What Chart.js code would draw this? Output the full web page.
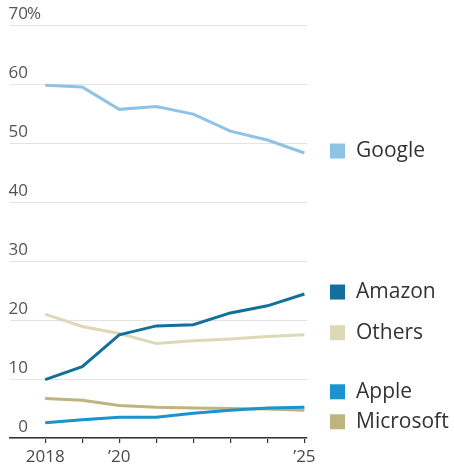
<!DOCTYPE html>
<html>
<head>
<meta charset="utf-8">
<script src="https://cdn.jsdelivr.net/npm/chart.js@4.4.1/dist/chart.umd.min.js"></script>
<style>
  html, body { margin: 0; padding: 0; background: #fff; }
  #wrap { width: 454px; height: 471px; }
</style>
</head>
<body>
<div id="wrap"><canvas id="grafico"></canvas></div>
<script>
// años y cuotas (%)
const years = [2018, 2019, 2020, 2021, 2022, 2023, 2024, 2025];
const google    = [59.8, 59.5, 55.7, 56.2, 54.9, 52.0, 50.5, 48.3];
const amazon    = [9.9, 12.1, 17.5, 19.0, 19.2, 21.2, 22.4, 24.4];
const others    = [21.0, 18.9, 17.7, 16.0, 16.5, 16.8, 17.2, 17.5];
const apple     = [2.6, 3.1, 3.5, 3.5, 4.2, 4.7, 5.1, 5.2];
const microsoft = [6.7, 6.4, 5.5, 5.2, 5.1, 5.0, 4.9, 4.7];
const yTicks = [0, 10, 20, 30, 40, 50, 60, 70];
const xLabels = { 2018: '2018', 2020: '\u201920', 2025: '\u201925' };

const series = [
    { label: 'Google', data: google, color: '#8fc3e6' },
    { label: 'Amazon', data: amazon, color: '#13709c' },
    { label: 'Others', data: others, color: '#ddd8b6' },
    { label: 'Apple', data: apple, color: '#1b93cf' },
    { label: 'Microsoft', data: microsoft, color: '#bfb47f' },
];

const FONT = '"Open Sans", "Noto Sans", sans-serif';

// etiquetas del eje Y encima de las líneas
const yLabelsPlugin = {
    id: 'yLabels',
    afterDraw(chart) {
        const { ctx, scales: { y } } = chart;
        ctx.save();
        ctx.font = '17px ' + FONT;
        ctx.fillStyle = '#555';
        ctx.textBaseline = 'alphabetic';
        yTicks.forEach(v => {
            const py = y.getPixelForValue(v) - 6;
            ctx.textAlign = 'right';
            ctx.fillText(String(v), 28, py);
            if (v === 70) {
                ctx.textAlign = 'left';
                ctx.fillText('%', 27, py);
            }
        });
        ctx.restore();
    }
};

// leyenda a la derecha, junto al final de cada línea
const endLabelsPlugin = {
    id: 'endLabels',
    afterDraw(chart) {
        const { ctx, scales: { y } } = chart;
        const gap = 30;
        const items = series.map(s => ({
            s, py: y.getPixelForValue(s.data[s.data.length - 1]) - 2
        })).sort((a, b) => a.py - b.py);
        // separar etiquetas demasiado cercanas
        for (let k = 0; k < 5; k++) {
            for (let i = 1; i < items.length; i++) {
                const d = items[i].py - items[i - 1].py;
                if (d < gap) {
                    const m = (gap - d) / 2;
                    items[i - 1].py -= m;
                    items[i].py += m;
                }
            }
        }
        ctx.save();
        ctx.font = '21px ' + FONT;
        ctx.textBaseline = 'middle';
        ctx.textAlign = 'left';
        items.forEach(it => {
            ctx.fillStyle = it.s.color;
            ctx.fillRect(330, it.py - 7.5, 15, 15);
            ctx.fillStyle = '#333';
            ctx.fillText(it.s.label, 356, it.py);
        });
        ctx.restore();
    }
};

new Chart(document.getElementById('grafico'), {
    type: 'line',
    data: {
        datasets: series.map(s => ({
            label: s.label,
            data: years.map((yr, i) => ({ x: yr, y: s.data[i] })),
            borderColor: s.color,
            backgroundColor: s.color,
            borderWidth: 3,
            pointRadius: 0,
            tension: 0,
        }))
    },
    options: {
        responsive: true,
        maintainAspectRatio: false,
        animation: false,
        layout: { padding: { left: 10, top: 25, right: 147, bottom: 0 } },
        plugins: {
            legend: { display: false },
            tooltip: { enabled: false }
        },
        scales: {
            x: {
                type: 'linear',
                min: 2017.05,
                max: 2025.07,
                afterBuildTicks: scale => { scale.ticks = years.map(v => ({ value: v })); },
                afterFit: scale => { scale.height = 33; },
                grid: { drawOnChartArea: false, drawTicks: true, tickLength: 5, color: '#333', lineWidth: 1.2 },
                border: { color: '#333', width: 1.5 },
                ticks: {
                    maxRotation: 0,
                    autoSkip: false,
                    padding: 4,
                    color: '#4a4a4a',
                    font: { family: FONT, size: 17 },
                    callback: v => xLabels[v] || ''
                }
            },
            y: {
                min: 0,
                max: 70,
                afterBuildTicks: scale => { scale.ticks = yTicks.map(v => ({ value: v })); },
                afterFit: scale => { scale.width = 0; },
                grid: { color: '#e3e3e3', lineWidth: 1, drawTicks: false },
                border: { display: false },
                ticks: { display: false }
            }
        }
    },
    plugins: [yLabelsPlugin, endLabelsPlugin]
});
</script>
</body>
</html>
